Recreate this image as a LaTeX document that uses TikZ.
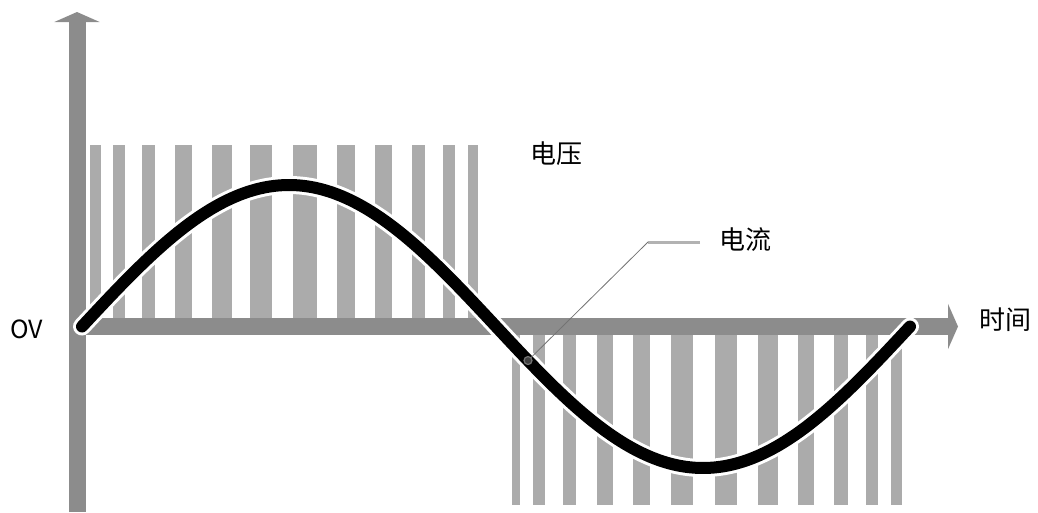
\documentclass[tikz,border=0pt]{standalone}
\usepackage{fontspec}
\setmainfont{Noto Sans CJK SC}
\usepackage{tikz}
\usetikzlibrary{arrows.meta,positioning}

\tikzset{
  axisline/.style={draw=black!45, line width=17pt, -{Triangle[width=45pt,length=10pt]}},
  pwmbar/.style={fill=black!33},
  halo/.style={draw=white, line width=18pt, line cap=round},
  wave/.style={draw=black, line width=12pt, line cap=round},
  lbl/.style={inner sep=0pt, font=\fontsize{26}{30}\selectfont},
}

\begin{document}
\begin{tikzpicture}[x=1pt,y=-1pt]
      \useasboundingbox (0,0) rectangle (1038,512);
      % pulses above the axis
      \foreach \l/\r in {90/101,113/125,142/155,175/192,212/232,250/272,
                         293/317,337/355,375/392,412/425,443/455,468/478}
        \fill[pwmbar] (\l,145) rectangle (\r,327);
      % pulses below the axis
      \foreach \l/\r in {512/520,533/545,563/576,597/613,633/650,671/693,
                         715/737,758/778,798/814,834/848,866/878,891/902}
        \fill[pwmbar] (\l,327) rectangle (\r,505);
      % axes
      \coordinate (origin) at (77,326.5);
      \coordinate (ytop) at (77,12);
      \coordinate (ybot) at (77,512);
      \coordinate (xend) at (958,326.5);
      \draw[axisline] (ybot) -- (ytop);
      \draw[axisline] (origin) -- (xend);
      % current
      \draw[halo] plot[domain=82:910, samples=90, smooth] (\x,{326.5-141.5*sin((\x-82)/828*360)});
      \draw[wave] plot[domain=82:910, samples=90, smooth] (\x,{326.5-141.5*sin((\x-82)/828*360)});
      \coordinate (probe) at (528,{326.5-141.5*sin((528-82)/828*360)});
      % labels
      \node[lbl] (zero) at (27,329) {\fontsize{25}{29}\selectfont OV};
      \node[lbl] (volt) at (556,154) {电压};
      \node[lbl, anchor=west] (cur) at (719,240) {电流};
      \node[lbl] (time) at (1005,320) {时间};
      \coordinate (elbow) at (648,242);
      \draw[black!30, line width=3pt] ([xshift=-19pt,yshift=-2pt]cur.west) -- (elbow);
      \draw[black!55, line width=0.8pt] (elbow) -- (probe);
      \draw[black!55, fill=black!75, line width=1.2pt] (probe) circle (4pt);
    \end{tikzpicture}
\end{document}
